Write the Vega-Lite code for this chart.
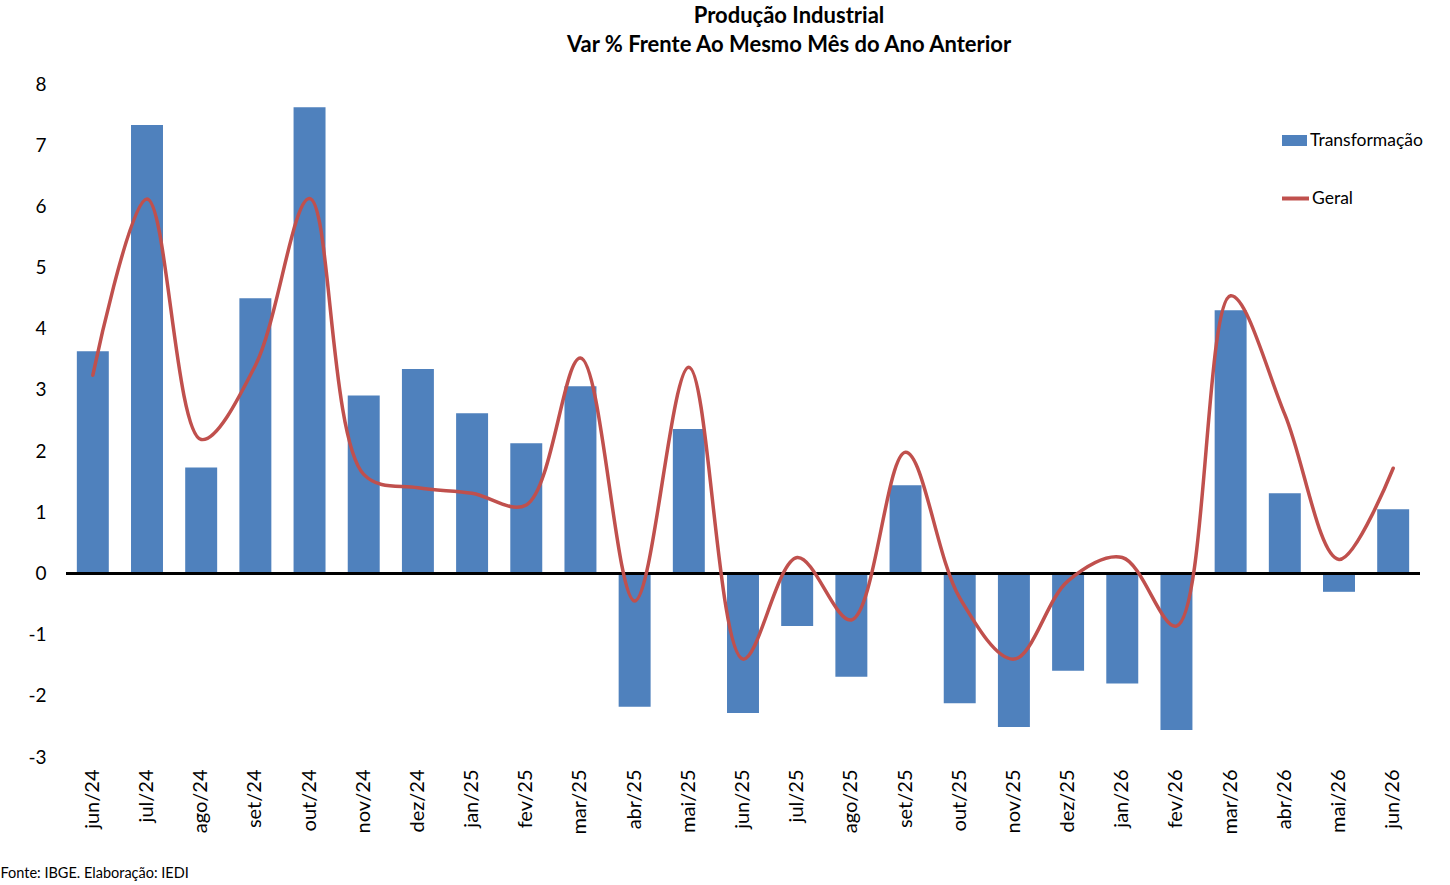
{
  "$schema": "https://vega.github.io/schema/vega-lite/v6.json",
  "autosize": {"type": "none"},
  "padding": {"left": 66, "top": 84, "right": 30, "bottom": 128},
  "width": 1354,
  "height": 673,
  "title": {
    "text": ["Produção Industrial", "Var % Frente Ao Mesmo Mês do Ano Anterior"],
    "font": "Lato",
    "fontSize": 22,
    "fontWeight": "bold",
    "color": "#000000",
    "lineHeight": 29,
    "anchor": "middle",
    "dx": 46,
    "offset": 18
  },
  "config": {
    "view": {"stroke": null},
    "font": "Lato",
    "axis": {"labelFont": "Lato", "titleFont": "Lato", "labelColor": "#000000", "titleColor": "#000000"},
    "legend": {"labelFont": "Lato", "labelColor": "#000000"}
  },
  "data": {
    "values": [
      {"mes": "jun/24", "transformacao": 3.63, "geral": 3.24},
      {"mes": "jul/24", "transformacao": 7.33, "geral": 6.12},
      {"mes": "ago/24", "transformacao": 1.73, "geral": 2.19},
      {"mes": "set/24", "transformacao": 4.50, "geral": 3.40},
      {"mes": "out/24", "transformacao": 7.62, "geral": 6.13},
      {"mes": "nov/24", "transformacao": 2.91, "geral": 1.62},
      {"mes": "dez/24", "transformacao": 3.34, "geral": 1.40},
      {"mes": "jan/25", "transformacao": 2.62, "geral": 1.31},
      {"mes": "fev/25", "transformacao": 2.13, "geral": 1.12},
      {"mes": "mar/25", "transformacao": 3.06, "geral": 3.52},
      {"mes": "abr/25", "transformacao": -2.18, "geral": -0.45},
      {"mes": "mai/25", "transformacao": 2.36, "geral": 3.37},
      {"mes": "jun/25", "transformacao": -2.28, "geral": -1.40},
      {"mes": "jul/25", "transformacao": -0.86, "geral": 0.26},
      {"mes": "ago/25", "transformacao": -1.69, "geral": -0.76},
      {"mes": "set/25", "transformacao": 1.44, "geral": 1.98},
      {"mes": "out/25", "transformacao": -2.12, "geral": -0.40},
      {"mes": "nov/25", "transformacao": -2.51, "geral": -1.40},
      {"mes": "dez/25", "transformacao": -1.59, "geral": -0.12},
      {"mes": "jan/26", "transformacao": -1.80, "geral": 0.26},
      {"mes": "fev/26", "transformacao": -2.56, "geral": -0.86},
      {"mes": "mar/26", "transformacao": 4.30, "geral": 4.54},
      {"mes": "abr/26", "transformacao": 1.31, "geral": 2.60},
      {"mes": "mai/26", "transformacao": -0.30, "geral": 0.23},
      {"mes": "jun/26", "transformacao": 1.05, "geral": 1.72}
    ]
  },
  "encoding": {
    "x": {
      "field": "mes",
      "type": "ordinal",
      "sort": null,
      "scale": {"paddingInner": 0.41, "paddingOuter": 0.2},
      "axis": {
        "title": "Fonte: IBGE. Elaboração: IEDI",
        "titleX": -66,
        "titleY": 116,
        "titleAlign": "left",
        "titleBaseline": "middle",
        "titleFontSize": 14.5,
        "titleFontWeight": "normal",
        "labelAngle": -90,
        "labelFontSize": 20,
        "labelPadding": 12,
        "ticks": false,
        "domain": false
      }
    }
  },
  "layer": [
    {
      "mark": {"type": "bar"},
      "encoding": {
        "y": {
          "field": "transformacao",
          "type": "quantitative",
          "scale": {"domain": [-3, 8], "nice": false},
          "axis": {
            "title": null,
            "values": [-3, -2, -1, 0, 1, 2, 3, 4, 5, 6, 7, 8],
            "labelExpr": "'' + datum.value",
            "labelFontSize": 19,
            "labelPadding": 20,
            "ticks": false,
            "domain": false,
            "grid": false
          }
        },
        "fill": {
          "datum": "Transformação",
          "type": "nominal",
          "scale": {"domain": ["Transformação"], "range": ["#4F81BD"]},
          "legend": {
            "title": null,
            "orient": "none",
            "legendX": 1216,
            "legendY": 44,
            "symbolType": "M-1,-0.44H1V0.44H-1Z",
            "symbolSize": 625,
            "symbolStrokeWidth": 0,
            "labelFontSize": 17.5,
            "labelOffset": 3
          }
        }
      }
    },
    {
      "mark": {"type": "rule", "color": "#000000", "strokeWidth": 1.5},
      "encoding": {
        "x": null,
        "y": {"datum": 0, "type": "quantitative"}
      }
    },
    {
      "mark": {"type": "line", "interpolate": "catmull-rom", "strokeWidth": 3.5, "strokeCap": "round"},
      "encoding": {
        "y": {"field": "geral", "type": "quantitative"},
        "stroke": {
          "datum": "Geral",
          "type": "nominal",
          "scale": {"domain": ["Geral"], "range": ["#C0504D"]},
          "legend": {
            "title": null,
            "orient": "none",
            "legendX": 1214,
            "legendY": 99,
            "symbolType": "stroke",
            "symbolSize": 729,
            "symbolStrokeWidth": 4,
            "labelFontSize": 17.5,
            "labelOffset": 1
          }
        }
      }
    }
  ],
  "resolve": {"scale": {"fill": "independent", "stroke": "independent"}, "legend": {"fill": "independent", "stroke": "independent"}}
}
